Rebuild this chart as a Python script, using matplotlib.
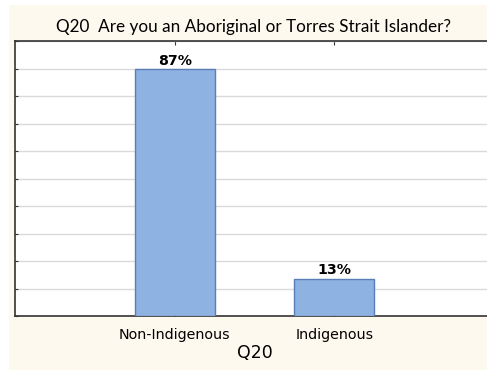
import numpy as np
import matplotlib
matplotlib.use('Agg')
import matplotlib.pyplot as plt
from matplotlib.patches import Rectangle

categories = ['Non-Indigenous', 'Indigenous']
values = [87, 13]
labels = ['87%', '13%']
title = 'Q20  Are you an Aboriginal or Torres Strait Islander?'
xlabel = 'Q20'

fig = plt.figure(figsize=(4.87, 3.70), dpi=100)
fig.patch.set_facecolor('white')
# cream panel behind the chart
fig.patches.append(Rectangle((9/487, 0), 1, 1 - 5/370, transform=fig.transFigure,
                             facecolor='#FEF9EE', edgecolor='none', zorder=-10))

ax = fig.add_axes([15/487, 54/370, 479/487, 275/370])
ax.set_facecolor('white')

x = np.arange(len(categories))
bars = ax.bar(x, values, width=0.5, color='#8EB2E1', edgecolor='#5A7FB8', linewidth=1, zorder=3)
for b, lab in zip(bars, labels):
    ax.text(b.get_x() + b.get_width()/2, b.get_height() + 0.6, lab, ha='center', va='bottom',
            fontsize=10.2, fontweight='bold', family='DejaVu Sans', zorder=4)

ax.set_xlim(-1, 2)
ax.set_ylim(0, 97)
ax.set_yticks(np.linspace(0, 97, 11))
ax.set_yticklabels([])
ax.grid(axis='y', color='#DADADA', linewidth=1, zorder=0)
ax.set_xticks(x)
ax.set_xticklabels(categories, fontsize=10.3, family='DejaVu Sans')
ax.tick_params(axis='x', direction='in', length=3, top=True, pad=9, color='#333333')
ax.tick_params(axis='y', direction='in', length=2, color='#333333')
for s in ['left', 'bottom', 'top']:
    ax.spines[s].set_color('#333333')
    ax.spines[s].set_linewidth(1.2)
ax.spines['right'].set_visible(False)
ax.set_xlabel(xlabel, fontsize=12.5, family='DejaVu Sans', labelpad=1)

fig.text(253/487, 1 - 27/370, title, ha='center', va='center', fontsize=12.3, family='Lato')

fig.savefig('out.png', dpi=100)
